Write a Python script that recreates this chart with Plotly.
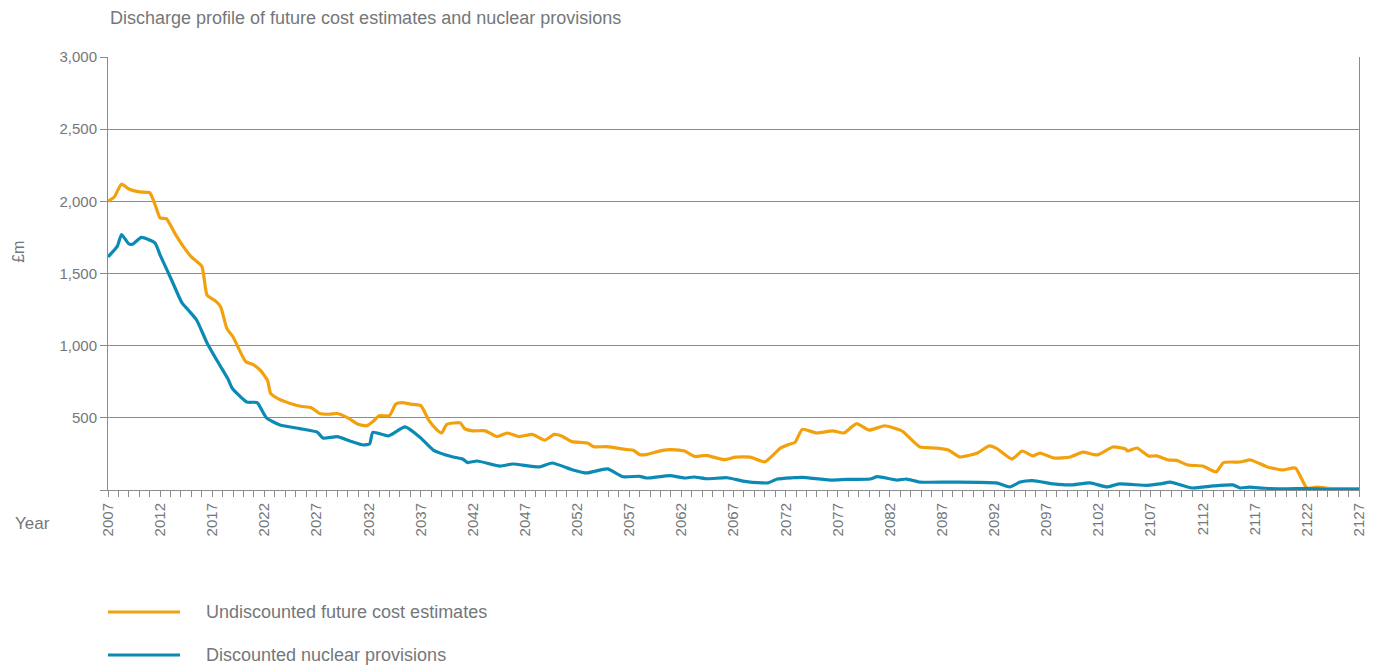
import plotly.graph_objects as go

# Undiscounted future cost estimates (£m)
undisc_years = [2007, 2007.6, 2008.3, 2009, 2010, 2011, 2011.6, 2012, 2012.6, 2013.4, 2014.2, 2015, 2016, 2016.5,
                2017.3, 2017.8, 2018.4, 2019, 2020.2, 2021, 2021.6, 2022.3, 2022.6, 2023.4, 2024.5, 2025.5, 2026.5,
                2027.3, 2028.2, 2029, 2030, 2031, 2031.8, 2032.5, 2033, 2034, 2034.6, 2035.2, 2036, 2037, 2037.8,
                2038.5, 2039, 2039.5, 2040.8, 2041.2, 2042, 2043.2, 2044.3, 2045.3, 2046.4, 2047.7, 2048.9, 2049.8,
                2050.5, 2051.5, 2053, 2053.6, 2054.8, 2056.8, 2057.4, 2058, 2058.6, 2060.2, 2061, 2062.3, 2063.3,
                2064.4, 2066.1, 2067.2, 2068.6, 2070, 2071.5, 2072.3, 2072.9, 2073.6, 2075, 2076.5, 2077.6, 2078.8,
                2080, 2081.5, 2083, 2083.3, 2084.2, 2084.9, 2086.5, 2087.6, 2088.7, 2090.4, 2091.5, 2092.2, 2093.7,
                2094.7, 2095.7, 2096.4, 2097.7, 2099.3, 2100.5, 2101.9, 2103.4, 2104.6, 2104.8, 2105.7, 2106.8,
                2107.6, 2108.7, 2109.5, 2110.6, 2112, 2113.3, 2114, 2115.6, 2116.6, 2118.2, 2119.7, 2120.9, 2122,
                2123, 2124, 2127]
undisc_values = [2000, 2030, 2120, 2085, 2065, 2060, 1960, 1885, 1880, 1780, 1690, 1615, 1550, 1350,
                 1310, 1270, 1120, 1060, 890, 866, 830, 760, 670, 630, 600, 580, 570,
                 530, 525, 530, 500, 455, 445, 480, 515, 515, 595, 605, 595, 585, 480,
                 420, 395, 455, 465, 425, 410, 410, 370, 395, 370, 385, 345, 385,
                 375, 335, 325, 300, 300, 280, 275, 245, 245, 275, 280, 270, 232,
                 240, 210, 228, 228, 195, 290, 315, 330, 420, 395, 410, 395, 460,
                 415, 445, 415, 402, 340, 298, 290, 277, 229, 256, 305, 290, 215,
                 270, 236, 256, 222, 229, 263, 243, 298, 285, 270, 291, 236,
                 236, 208, 205, 173, 166, 125, 190, 194, 208, 160, 139, 152, 14,
                 20, 12, 10]

# Discounted nuclear provisions (£m)
disc_years = [2007, 2007.9, 2008.3, 2009, 2009.4, 2010.2, 2011.5, 2012, 2013.1, 2014.1, 2014.7, 2015.5, 2016.5,
              2017.6, 2018.5, 2018.9, 2020.3, 2021.3, 2022.2, 2023.5, 2025.4, 2027.1, 2027.6, 2029, 2030.2,
              2031.5, 2032.1, 2032.4, 2033.9, 2035.5, 2036.9, 2038.2, 2040.1, 2041, 2041.5, 2042.4, 2044.6,
              2045.8, 2048.4, 2049.6, 2051.6, 2052.9, 2054.9, 2056.4, 2058, 2058.7, 2060.9, 2062.3, 2063.2,
              2064.5, 2066.4, 2067.9, 2069.8, 2070.3, 2071.2, 2072.7, 2073.6, 2076.3, 2077.9, 2080.1, 2080.8,
              2082.7, 2083.6, 2084.9, 2088, 2092.2, 2093.5, 2094.5, 2095.7, 2097.7, 2099.3, 2101.2, 2102.8,
              2104, 2106.7, 2107.9, 2108.9, 2111, 2113, 2114.9, 2115.6, 2116.5, 2118, 2120, 2122, 2124, 2127]
disc_values = [1615, 1690, 1770, 1705, 1705, 1750, 1712, 1628, 1455, 1296, 1247, 1178, 1019,
               880, 770, 707, 610, 605, 500, 450, 425, 400, 360, 370, 340,
               312, 320, 400, 375, 437, 367, 277, 229, 215, 190, 201, 166,
               180, 160, 187, 139, 118, 146, 92, 95, 83, 100, 83, 90,
               78, 85, 62, 49, 49, 76, 85, 88, 69, 74, 76, 92,
               69, 76, 55, 55, 49, 21, 55, 65, 42, 35, 49, 21,
               42, 32, 42, 55, 14, 28, 35, 14, 20, 12, 8, 10, 5, 5]

x_tick_vals = list(range(2007, 2128, 5))
y_tick_vals = [0, 500, 1000, 1500, 2000, 2500, 3000]
y_tick_text = ["", "500", "1,000", "1,500", "2,000", "2,500", "3,000"]

series_names = ["Undiscounted future cost estimates", "Discounted nuclear provisions"]
ORANGE = "#F2A10C"
BLUE = "#0A8AB4"
GRID = "#8C8C8C"
TXT = "#74777A"
FONT = "Liberation Sans, Arial, sans-serif"

fig = go.Figure()
fig.add_trace(go.Scatter(x=undisc_years, y=undisc_values, mode="lines", name=series_names[0],
                         line=dict(color=ORANGE, width=3.2, shape="spline", smoothing=0.5),
                         showlegend=False))
fig.add_trace(go.Scatter(x=disc_years, y=disc_values, mode="lines", name=series_names[1],
                         line=dict(color=BLUE, width=3.2, shape="spline", smoothing=0.5),
                         showlegend=False))

fig.update_layout(
    width=1372, height=660,
    margin=dict(l=100, r=21, t=49, b=178),
    paper_bgcolor="white", plot_bgcolor="white",
    font=dict(family=FONT, color=TXT, size=15),
    xaxis=dict(range=[2007, 2127], tickvals=x_tick_vals, ticktext=[str(v) for v in x_tick_vals],
               tickangle=-90, ticks="outside", ticklen=6, tickcolor=GRID,
               minor=dict(dtick=1, tick0=2007, ticks="outside", ticklen=6, tickcolor=GRID, showgrid=False),
               showgrid=False, zeroline=False, showline=True, linecolor=GRID, linewidth=1,
               mirror=False, tickfont=dict(size=15, color=TXT)),
    yaxis=dict(range=[0, 3000], tickvals=y_tick_vals, ticktext=y_tick_text,
               ticks="outside", ticklen=7, tickcolor=GRID,
               showgrid=True, gridcolor=GRID, gridwidth=1, zeroline=False,
               showline=True, linecolor=GRID, linewidth=1, mirror=True,
               tickfont=dict(size=15, color=TXT)),
)

# Title and axis labels
fig.add_annotation(text="Discharge profile of future cost estimates and nuclear provisions",
                   xref="paper", yref="paper", x=0, y=1, yshift=39, xanchor="left", yanchor="middle",
                   showarrow=False, font=dict(size=18, color=TXT))
fig.add_annotation(text="£m", xref="paper", yref="paper", x=0, xshift=-89, y=0.55, textangle=-90,
                   xanchor="center", yanchor="middle", showarrow=False, font=dict(size=16, color=TXT))
fig.add_annotation(text="Year", xref="paper", yref="paper", x=0, xshift=-95, y=0, yshift=-33,
                   xanchor="left", yanchor="middle", showarrow=False, font=dict(size=17, color=TXT))

# Legend (drawn below the chart)
for i, (name, col) in enumerate(zip(series_names, [ORANGE, BLUE])):
    ypix = -122 - 43 * i
    fig.add_shape(type="line", xref="paper", yref="paper", x0=0, x1=72 / 1251,
                  y0=ypix / 433, y1=ypix / 433, line=dict(color=col, width=3))
    fig.add_annotation(text=name, xref="paper", yref="paper", x=96 / 1251, y=ypix / 433,
                       xanchor="left", yanchor="middle", showarrow=False,
                       font=dict(size=18, color=TXT))

fig.write_html("out.html")
